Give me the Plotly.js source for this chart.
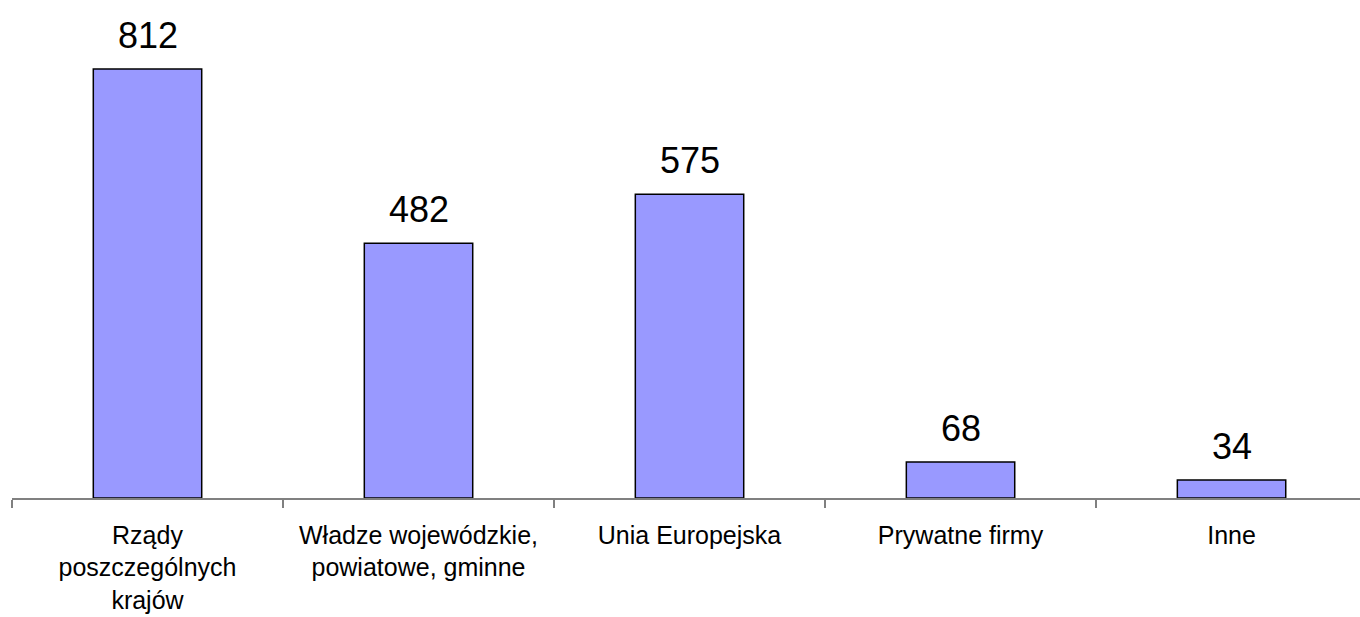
<!DOCTYPE html>
<html>
<head>
<meta charset="utf-8">
<script src="https://cdn.plot.ly/plotly-3.0.1.min.js"></script>
<style>html,body{margin:0;padding:0;background:#fff;}#chart{width:1360px;height:617px;}</style>
</head>
<body>
<div id="chart"></div>
<script>
const categories = ["Rządy<br>poszczególnych<br>krajów", "Władze wojewódzkie,<br>powiatowe, gminne", "Unia Europejska", "Prywatne firmy", "Inne"];
const values = [812, 482, 575, 68, 34];
const valueLabels = ["812", "482", "575", "68", "34"];

const trace = {
  type: "bar",
  x: categories,
  y: values,
  width: 0.4,
  marker: {color: "#9999FF", line: {color: "#000000", width: 1.5}},
  hoverinfo: "skip"
};

const annotations = categories.map((c, i) => ({
  x: c, y: values[i], xref: "x", yref: "y",
  text: valueLabels[i], showarrow: false,
  yanchor: "bottom", yshift: 11,
  font: {family: "Liberation Sans, Arial, sans-serif", size: 36, color: "#000"}
}));

const layout = {
  width: 1360, height: 617,
  margin: {l: 12, r: 0, t: 0, b: 119},
  paper_bgcolor: "#fff", plot_bgcolor: "#fff",
  showlegend: false,
  xaxis: {
    type: "category",
    range: [-0.5, 4.474],
    showline: true, linecolor: "#808080", linewidth: 1.5,
    ticks: "outside", tickson: "boundaries", ticklen: 8, tickcolor: "#808080", tickwidth: 1.5,
    ticklabelstandoff: 14,
    tickfont: {family: "Liberation Sans, Arial, sans-serif", size: 25, color: "#000"},
    showgrid: false, zeroline: false, fixedrange: true
  },
  yaxis: {
    range: [0, 942.6],
    visible: false, showgrid: false, zeroline: false, fixedrange: true
  },
  annotations: annotations
};

Plotly.newPlot("chart", [trace], layout, {displayModeBar: false, staticPlot: true});
</script>
</body>
</html>
